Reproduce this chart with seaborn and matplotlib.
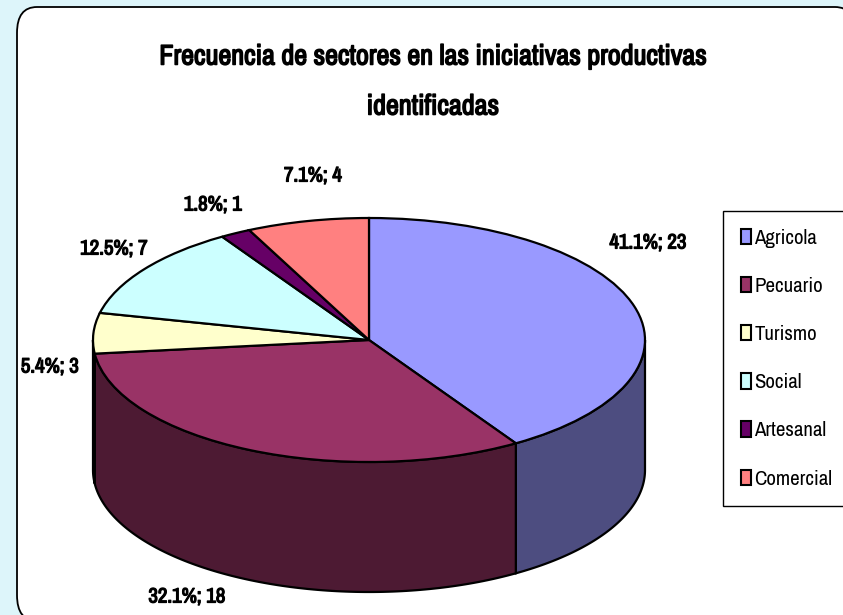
import numpy as np
import matplotlib
matplotlib.use("Agg")
import matplotlib.pyplot as plt
import matplotlib.patheffects as pe
from matplotlib.patches import FancyBboxPatch
import seaborn as sns

categories = ["Agricola", "Pecuario", "Turismo", "Social", "Artesanal", "Comercial"]
counts = [23, 18, 3, 7, 1, 4]
top_colors = ["#9999FF", "#993366", "#FFFFCC", "#CCFFFF", "#660066", "#FF8080"]
title_lines = ["Frecuencia de sectores en las iniciativas productivas", "identificadas"]
label_px = [(648, 243), (187, 597), (50, 367), (114, 249), (213, 205), (313, 176)]

W, H = 843, 615
sns.set_theme(style="white")
plt.rcParams["font.family"] = ["Archivo Narrow", "Liberation Sans", "DejaVu Sans"]
palette = sns.color_palette(top_colors)

fig = plt.figure(figsize=(W / 100, H / 100), dpi=100, facecolor="#DDF5FA")
panel = FancyBboxPatch((17 / W, -6 / H), (855 - 17) / W, (621 - 7) / H,
                       boxstyle="round,pad=0,rounding_size=0.0237",
                       transform=fig.transFigure, mutation_aspect=1.78,
                       fc="white", ec="black", lw=1.3, clip_on=False, zorder=-5)
fig.add_artist(panel)

cx, cy, rx, ry, depth = 369, 340, 276, 122, 130
ax = fig.add_axes([(cx - rx) / W, 1 - (cy + ry + depth) / H, 2 * rx / W, (2 * ry + depth) / H])
ax.patch.set_alpha(0)
wedges, _ = ax.pie(counts, colors=palette, startangle=90, counterclock=False, radius=1,
                   wedgeprops=dict(edgecolor="black", linewidth=1.6, zorder=5))
ax.set_aspect("auto")
d = depth / ry
ax.set_xlim(-1, 1)
ax.set_ylim(-1 - d, 1)
ax.set_axis_off()
for a in ax.patches:
    a.set_clip_on(False)

fracs = np.array(counts) / sum(counts)
edges = np.concatenate([[0], np.cumsum(fracs)]) * 2 * np.pi
for a, b, col in zip(edges[:-1], edges[1:], palette):
    lo, hi = max(a, np.pi / 2), min(b, 3 * np.pi / 2)
    if hi <= lo:
        continue
    t = np.linspace(lo, hi, 120)
    x, y = np.sin(t), np.cos(t)
    dark = tuple(c * 0.5 for c in col)
    ax.fill(np.r_[x, x[::-1]], np.r_[y, y[::-1] - d], fc=dark, ec="black", lw=1.6, zorder=2, clip_on=False)

leg = fig.legend(wedges, categories, loc="upper left", bbox_to_anchor=(723 / W, 1 - 211 / H),
                 borderaxespad=0, fontsize=15, frameon=True, fancybox=False,
                 edgecolor="black", facecolor="white", framealpha=1, labelcolor="black",
                 handlelength=0.5, handleheight=0.75, handletextpad=0.15,
                 labelspacing=1.4, borderpad=0.85)
leg.get_frame().set_linewidth(1.0)
for h in leg.legend_handles:
    h.set_linewidth(1.5)

bold = [pe.withStroke(linewidth=0.9, foreground="black")]
for px, v in zip(label_px, counts):
    fig.text(px[0] / W, 1 - px[1] / H, f"{v / sum(counts) * 100:.1f}%; {v}", ha="center", va="center",
             fontsize=15, color="black", path_effects=bold)

for line, y in zip(title_lines, (57, 107)):
    fig.text(433 / W, 1 - y / H, line, ha="center", va="center", fontsize=20.3, color="black",
             path_effects=[pe.withStroke(linewidth=1.1, foreground="black")])
fig.savefig("out.png", dpi=100, facecolor=fig.get_facecolor())
